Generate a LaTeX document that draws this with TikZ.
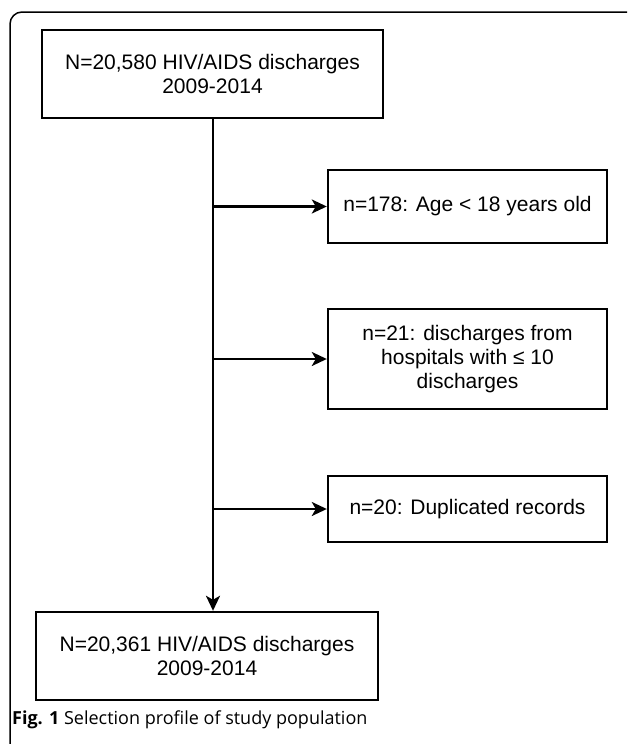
\documentclass[tikz,border=0pt]{standalone}
\usepackage{fontspec}
\setmainfont{Liberation Sans}
\newfontfamily\capfont{Open Sans}
\usetikzlibrary{arrows.meta}

\begin{document}
\begin{tikzpicture}[
  x=1pt, y=-1pt,
  box/.style={draw, line width=2.4pt, align=center, inner sep=0pt,
    font=\fontsize{21}{24}\selectfont},
  flow/.style={line width=2.4pt, -{Stealth[length=15pt,width=14pt,inset=4pt]}}
]
  \useasboundingbox (0,0) rectangle (627,744);
  % rahmen
  \draw[line width=1.5pt, rounded corners=12pt] (10,744) -- (10,12) -- (627,12);

  % kästen
  \node[box, minimum width=341pt, minimum height=88pt] (start) at (212.5,74) {N=20,580 HIV/AIDS discharges\\2009-2014};
  \node[box, minimum width=279pt, minimum height=73pt] (age) at (467.5,206.5) {n=178: Age < 18 years old};
  \node[box, minimum width=279pt, minimum height=100pt] (hosp) at (467.5,359) {n=21: discharges from\\hospitals with ≤ 10\\discharges};
  \node[box, minimum width=279pt, minimum height=66pt] (dup) at (467.5,509) {n=20: Duplicated records};
  \node[box, minimum width=342pt, minimum height=88pt] (final) at (207,656) {N=20,361 HIV/AIDS discharges\\2009-2014};
  \coordinate (trunk) at (213,0);

  % pfeile
  \draw[flow] (trunk |- start.south) -- (trunk |- final.north);
  \draw[flow] (trunk |- age.west) -- (age.west);
  \draw[flow] (trunk |- hosp.west) -- (hosp.west);
  \draw[flow] (trunk |- dup.west) -- (dup.west);

  % unterschrift
  \node[anchor=base west, inner sep=0pt, font=\capfont\fontsize{18}{21}\selectfont] (cap) at (12,724)
    {\textbf{Fig. 1} Selection profile of study population};
\end{tikzpicture}
\end{document}
